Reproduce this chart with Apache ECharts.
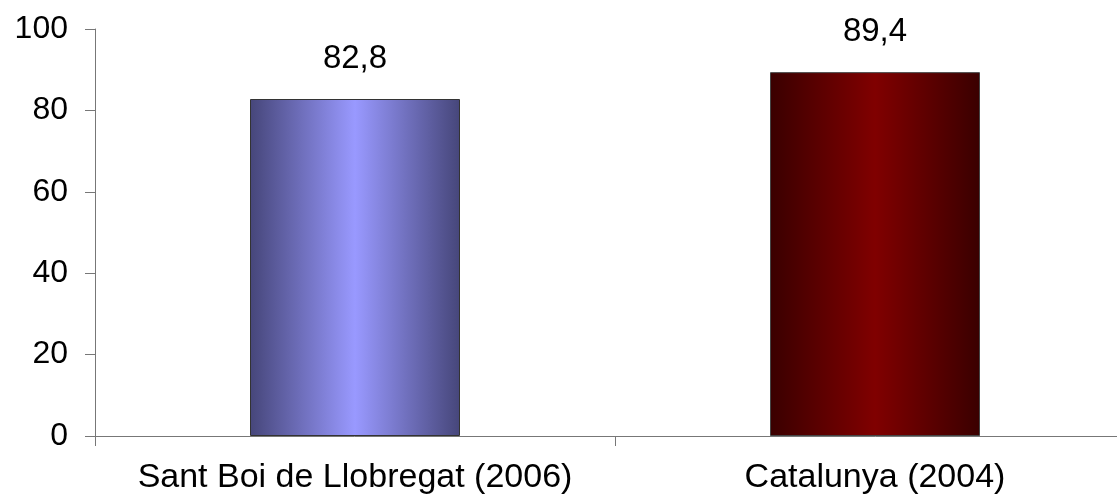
<!DOCTYPE html>
<html>
<head>
<meta charset="utf-8">
<script src="https://cdn.jsdelivr.net/npm/echarts@6/dist/echarts.min.js"></script>
<style>
html,body{margin:0;padding:0;background:#fff;overflow:hidden;width:1117px;height:504px;}
#c{width:1135px;height:504px;}
</style>
</head>
<body>
<div id="c"></div>
<script>
const categories = ['Sant Boi de Llobregat (2006)', 'Catalunya (2004)'];
const values = [82.8, 89.4];
const yTicks = [0, 20, 40, 60, 80, 100];

const FONT = '"Liberation Sans", Arial, sans-serif';
const grads = [
  {edge: '#46467a', mid: '#9999ff', border: '#333333'},
  {edge: '#3a0000', mid: '#800000', border: '#444444'}
];

const chart = echarts.init(document.getElementById('c'), null, {renderer: 'canvas'});
chart.setOption({
  animation: false,
  backgroundColor: '#ffffff',
  grid: {left: 95, right: 0, top: 29, bottom: 68, containLabel: false},
  xAxis: {
    type: 'category',
    data: categories,
    boundaryGap: true,
    axisLine: {lineStyle: {color: '#777777', width: 1}},
    axisTick: {show: true, length: 10, alignWithLabel: false, lineStyle: {color: '#777777'}},
    axisLabel: {interval: 0, hideOverlap: false, fontFamily: FONT, fontSize: 34, color: '#000', margin: 25}
  },
  yAxis: {
    type: 'value',
    min: yTicks[0],
    max: yTicks[yTicks.length - 1],
    interval: 20,
    splitLine: {show: false},
    axisLine: {show: true, lineStyle: {color: '#777777', width: 1}},
    axisTick: {show: true, length: 10, lineStyle: {color: '#777777'}},
    axisLabel: {fontFamily: FONT, fontSize: 32, color: '#000', margin: 27}
  },
  series: [{
    type: 'bar',
    barWidth: 210,
    data: values.map((v, i) => ({
      value: v,
      itemStyle: {
        color: new echarts.graphic.LinearGradient(0, 0, 1, 0, [
          {offset: 0, color: grads[i].edge},
          {offset: 0.5, color: grads[i].mid},
          {offset: 1, color: grads[i].edge}
        ]),
        borderColor: grads[i].border,
        borderWidth: 1
      }
    })),
    label: {
      show: true,
      position: 'top',
      distance: 24,
      fontFamily: FONT,
      fontSize: 33,
      color: '#000',
      formatter: p => String(p.value).replace('.', ',')
    }
  }]
});
</script>
</body>
</html>
